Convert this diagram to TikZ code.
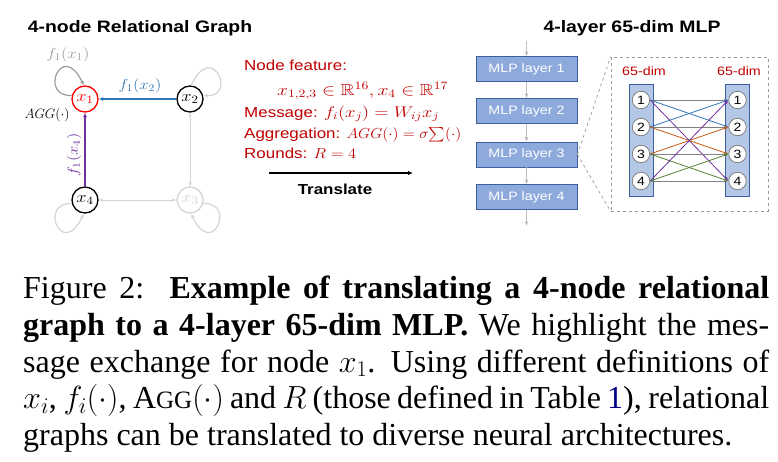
\RequirePackage{fix-cm}
\documentclass[tikz,border=0pt]{standalone}
\usepackage{amssymb}
\usepackage{fontspec}
\setmainfont{Liberation Serif}
\newfontfamily\sansf[FakeStretch=1.17]{Liberation Sans}
\usetikzlibrary{arrows.meta}
\definecolor{capred}{RGB}{192,0,0}
\definecolor{eblue}{RGB}{46,117,182}
\definecolor{epurple}{RGB}{112,48,160}
\definecolor{eorange}{RGB}{197,90,17}
\definecolor{egreen}{RGB}{84,130,53}
\definecolor{egray}{RGB}{128,128,128}
\definecolor{lgray}{RGB}{212,212,212}
\definecolor{mgray}{RGB}{155,155,155}
\definecolor{agray}{RGB}{190,190,190}
\definecolor{boxfill}{RGB}{142,169,219}
\definecolor{boxdraw}{RGB}{60,95,160}
\definecolor{colfill}{RGB}{180,199,231}
\definecolor{linkblue}{RGB}{0,0,139}
\definecolor{nodered}{RGB}{255,0,0}
\newcommand{\mth}[1]{\scalebox{1.15}[1]{\fontsize{14.5}{16}\selectfont$#1$}}
\newcommand{\mthx}[3]{\scalebox{#1}[1]{\fontsize{#2}{16}\selectfont$#3$}}
\begin{document}
\begin{tikzpicture}[x=1pt,y=-1pt,
  tip/.style={-{Latex[length=4.5pt,width=4pt]}},
  gnode/.style={circle,draw,line width=1.3pt,minimum size=26pt,inner sep=0pt,fill=white},
  loopline/.style={line width=1.2pt,tip},
  glabel/.style={inner sep=0pt},
  ttl/.style={font=\sansf\bfseries\fontsize{16.6}{18}\selectfont,inner sep=0pt},
  redtext/.style={font=\sansf\fontsize{14.5}{16}\selectfont,text=capred,inner sep=0pt,anchor=base west},
  layerbox/.style={draw=boxdraw,fill=boxfill,line width=0.8pt,minimum width=101pt,minimum height=25pt,inner sep=0pt,text=white,font=\sansf\fontsize{12.2}{14}\selectfont},
  mlparrow/.style={draw=agray,line width=1.6pt,-{Latex[length=4.5pt,width=4.5pt]}},
  colbox/.style={draw=boxdraw,fill=colfill,line width=0.8pt,minimum width=24pt,minimum height=112pt,inner sep=0pt},
  unit/.style={circle,draw=egray,fill=white,line width=0.8pt,minimum size=17.5pt,inner sep=0pt,font=\sansf\fontsize{12}{14}\selectfont},
  conn/.style={line width=0.8pt,-{Latex[length=4pt,width=3.5pt]}},
  dimlabel/.style={font=\sansf\fontsize{12.2}{14}\selectfont,text=capred,inner sep=0pt},
  capline/.style={anchor=base west,inner sep=0pt,font=\fontsize{32}{36.75}\selectfont}
]
\useasboundingbox (0,0) rectangle (778,461);

% ---------- left: relational graph ----------
\node[ttl] (t1) at (140,28) {4-node Relational Graph};
\node[gnode,draw=nodered,text=nodered] (x1) at (85,99) {\mthx{1.15}{16}{x_1}};
\node[gnode] (x2) at (190,99) {\mthx{1.15}{16}{x_2}};
\node[gnode] (x4) at (85,200) {\mthx{1.15}{16}{x_4}};
\node[gnode,draw=lgray,text=lgray] (x3) at (190,200) {\mthx{1.15}{16}{x_3}};

\draw[loopline,mgray] (x1.165) .. controls (38,97) and (62,40) .. (x1.95);
\draw[loopline,lgray] (x2.85) .. controls (212,40) and (237,97) .. (x2.15);
\draw[loopline,lgray] (x4.195) .. controls (38,202) and (62,259) .. (x4.265);
\draw[loopline,lgray] (x3.345) .. controls (237,202) and (212,259) .. (x3.275);

\draw[line width=1.3pt,eblue,tip] (x2) -- (x1);
\draw[line width=1.3pt,epurple,tip] (x4) -- (x1);
\draw[line width=1pt,lgray,{Latex[length=4pt,width=3.5pt]}-{Latex[length=4pt,width=3.5pt]}] (x2) -- (x3);
\draw[line width=1pt,lgray,{Latex[length=4pt,width=3.5pt]}-{Latex[length=4pt,width=3.5pt]}] (x4) -- (x3);

\node[glabel,text=mgray] (l11) at (68,55) {\mth{f_1(x_1)}};
\node[glabel,text=eblue] (l12) at (140,86) {\mth{f_1(x_2)}};
\node[glabel] (lagg) at (47,115) {\fontsize{13.5}{15}\selectfont$AGG(\cdot)$};
\node[glabel,text=epurple,rotate=90] (l14) at (74,155) {\mth{f_1(x_4)}};

% ---------- middle text ----------
\node[redtext] (nf) at (244,70.5) {Node feature:};
\node[redtext] (nfm) at (277,95) {\mthx{1.22}{16}{x_{1,2,3}\in\mathbb{R}^{16}, x_4\in\mathbb{R}^{17}}};
\node[redtext] (msg) at (244,117) {Message: \mthx{1.2}{15.5}{f_i(x_j)=W_{ij}x_j}};
\node[redtext] (agg) at (244,138.5) {Aggregation: \mthx{1.08}{14.5}{AGG(\cdot)=\sigma{\textstyle\sum}(\cdot)}};
\node[redtext] (rnd) at (244,158.5) {Rounds: \mth{R=4}};
\coordinate (ta) at (269,173);
\coordinate (tb) at (413,173);
\draw[line width=1.3pt,-{Latex[length=5pt,width=4.5pt]}] (ta) -- (tb);
\node[font=\sansf\bfseries\fontsize{14.5}{16}\selectfont,inner sep=0pt,anchor=base] (tr) at (335,194) {Translate};

% ---------- right: MLP ----------
\node[ttl] (t2) at (632,28) {4-layer 65-dim MLP};
\node[layerbox] (m1) at (526.5,69) {MLP layer 1};
\node[layerbox] (m2) at (526.5,111) {MLP layer 2};
\node[layerbox] (m3) at (526.5,154.5) {MLP layer 3};
\node[layerbox] (m4) at (526.5,197) {MLP layer 4};
\coordinate (min) at (526.5,41);
\coordinate (mout) at (526.5,226);
\draw[mlparrow] (min) -- (m1);
\draw[mlparrow] (m1) -- (m2);
\draw[mlparrow] (m2) -- (m3);
\draw[mlparrow] (m3) -- (m4);
\draw[mlparrow] (m4) -- (mout);

\node[draw=egray!80,dashed,line width=0.7pt,minimum width=157pt,minimum height=154pt,inner sep=0pt] (zoombox) at (689.5,134) {};
\draw[egray!80,dashed,line width=0.7pt] (m3.east) -- (zoombox.north west);
\draw[egray!80,dashed,line width=0.7pt] (m3.east) -- (zoombox.south west);

\node[colbox] (cl) at (641,140) {};
\node[colbox] (cr) at (737.5,140) {};
\node[dimlabel] (dl) at (644,71) {65-dim};
\node[dimlabel] (dr) at (739,71) {65-dim};

\foreach \i/\y in {1/100,2/127,3/154,4/181}{
  \node[unit] (L\i) at (641,\y) {\i};
  \node[unit] (R\i) at (737.5,\y) {\i};
}
\draw[conn,egray] (L1.east) -- (R1.west);
\draw[conn,eblue] (L1.east) -- (R2.west);
\draw[conn,epurple] (L1.east) -- (R4.west);
\draw[conn,eblue] (L2.east) -- (R1.west);
\draw[conn,egray] (L2.east) -- (R2.west);
\draw[conn,eorange] (L2.east) -- (R3.west);
\draw[conn,eorange] (L3.east) -- (R2.west);
\draw[conn,egray] (L3.east) -- (R3.west);
\draw[conn,egreen] (L3.east) -- (R4.west);
\draw[conn,epurple] (L4.east) -- (R1.west);
\draw[conn,egreen] (L4.east) -- (R3.west);
\draw[conn,egray] (L4.east) -- (R4.west);

% ---------- caption ----------
\node[capline] (c1) at (23,298) {\makebox[746pt][s]{Figure 2:\ \ \textbf{Example of translating a 4-node relational}}};
\node[capline] (c2) at (23,335) {\makebox[746pt][s]{\textbf{graph to a 4-layer 65-dim MLP.} We highlight the mes-}};
\node[capline] (c3) at (23,372) {\makebox[746pt][s]{sage exchange for node $x_1$. Using different definitions of}};
\node[capline] (c4) at (23,408.5) {\makebox[746pt][s]{$x_i$, $f_i(\cdot)$, A{\fontsize{25}{30}\selectfont GG}$(\cdot)$ and $R$ (those defined in Table {\color{linkblue}1}), relational}};
\node[capline] (c5) at (23,445) {graphs can be translated to diverse neural architectures.};
\end{tikzpicture}
\end{document}
